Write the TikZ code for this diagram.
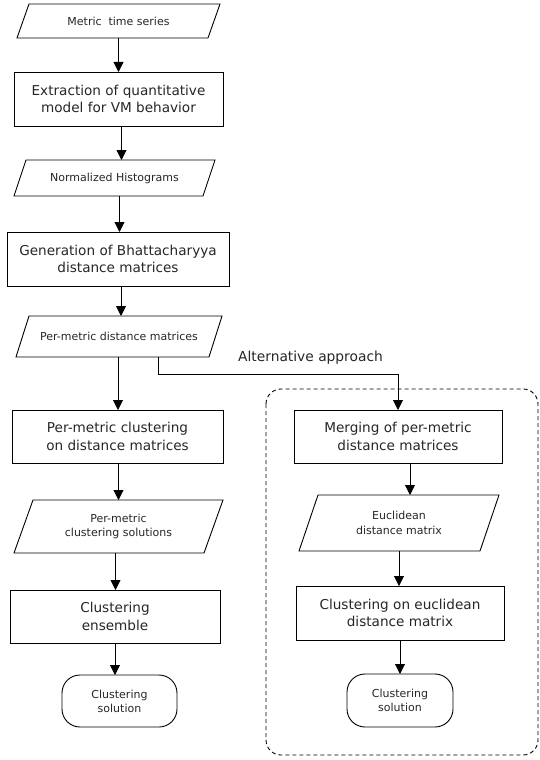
\documentclass[tikz,border=0pt]{standalone}
\usepackage{fontspec}
\setmainfont{DejaVu Sans}
\usetikzlibrary{arrows.meta,calc}
\newcommand\drawpara[2]{\draw[line width=0.9pt] ([xshift=#2pt]#1.north west) -- (#1.north east) -- ([xshift=-#2pt]#1.south east) -- (#1.south west) -- cycle;}
\begin{document}
\begin{tikzpicture}[x=1pt,y=-1pt,
  every node/.style={inner sep=0pt, outer sep=0pt, text=black!85},
  procbox/.style={draw, line width=0.9pt, font=\fontsize{13.6}{17.5}\selectfont, align=center},
  ionode/.style={font=\fontsize{11}{14.5}\selectfont, align=center},
  termnode/.style={draw, line width=0.9pt, rounded corners=18pt, font=\fontsize{11}{14}\selectfont, align=center},
  arr/.style={-{Triangle[width=10pt,length=10pt]}, line width=0.9pt},
  altbox/.style={draw, line width=0.9pt, dash pattern=on 4pt off 3pt, rounded corners=15pt}
]
\useasboundingbox (0,0) rectangle (540,760);

% left column
\node[ionode, minimum width=203pt, minimum height=34pt] (n1) at (118.5,21) {Metric\ \ time series};
\drawpara{n1}{12}
\node[procbox, minimum width=209pt, minimum height=54pt] (n2) at (118.5,99) {Extraction of quantitative\\model for VM behavior};
\node[ionode, minimum width=201pt, minimum height=36pt] (n3) at (114.5,178) {Normalized Histograms};
\drawpara{n3}{12}
\node[procbox, minimum width=222pt, minimum height=54pt] (n4) at (118,259) {Generation of Bhattacharyya\\distance matrices};
\node[ionode, minimum width=206pt, minimum height=41pt] (n5) at (119,336.5) {Per-metric distance matrices};
\drawpara{n5}{13}
\node[procbox, minimum width=211pt, minimum height=53pt] (n6) at (117.5,436.5) {Per-metric clustering\\on distance matrices};
\node[ionode, minimum width=209pt, minimum height=53pt] (n7) at (118.5,526.5) {Per-metric\\clustering solutions};
\drawpara{n7}{19}
\node[procbox, minimum width=210pt, minimum height=53pt] (n8) at (115,616.5) {Clustering\\ensemble};
\node[termnode, minimum width=115pt, minimum height=52pt] (n9) at (119.5,701) {Clustering\\solution};

% right column
\draw[altbox] (266,389) rectangle (538,755);
\node[procbox, minimum width=208pt, minimum height=53pt] (n10) at (398,436.5) {Merging of per-metric\\distance matrices};
\node[ionode, minimum width=200pt, minimum height=56pt] (n11) at (399,523) {Euclidean\\distance matrix};
\drawpara{n11}{19}
\node[procbox, minimum width=208pt, minimum height=54pt] (n12) at (400,613) {Clustering on euclidean\\distance matrix};
\node[termnode, minimum width=106pt, minimum height=53pt] (n13) at (400,700.5) {Clustering\\solution};

% connectors
\draw[arr] (n1.south) -- (n1.south |- n2.north);
\draw[arr] ([xshift=3pt]n2.south) -- ([xshift=3pt]n2.south |- n3.north);
\draw[arr] ([xshift=5pt]n3.south) -- ([xshift=5pt]n3.south |- n4.north);
\draw[arr] ([xshift=3pt]n4.south) -- ([xshift=3pt]n4.south |- n5.north);
\draw[arr] ([xshift=-1pt]n5.south) -- ([xshift=-1pt]n5.south |- n6.north);
\draw[arr] ([xshift=1pt]n6.south) -- ([xshift=1pt]n6.south |- n7.north);
\draw[arr] ([xshift=-3pt]n7.south) -- ([xshift=-3pt]n7.south |- n8.north);
\draw[arr] (n8.south) -- (n8.south |- n9.north);
\draw[arr] ([xshift=39pt]n5.south) -- ++(0,17) -| (n10.north);
\node[font=\fontsize{13.8}{16}\selectfont] (alt) at (310.5,358) {Alternative approach};
\draw[arr] ([xshift=12pt]n10.south) -- ([xshift=12pt]n10.south |- n11.north);
\draw[arr] (n11.south) -- (n11.south |- n12.north);
\draw[arr] (n12.south) -- (n12.south |- n13.north);
\end{tikzpicture}
\end{document}
